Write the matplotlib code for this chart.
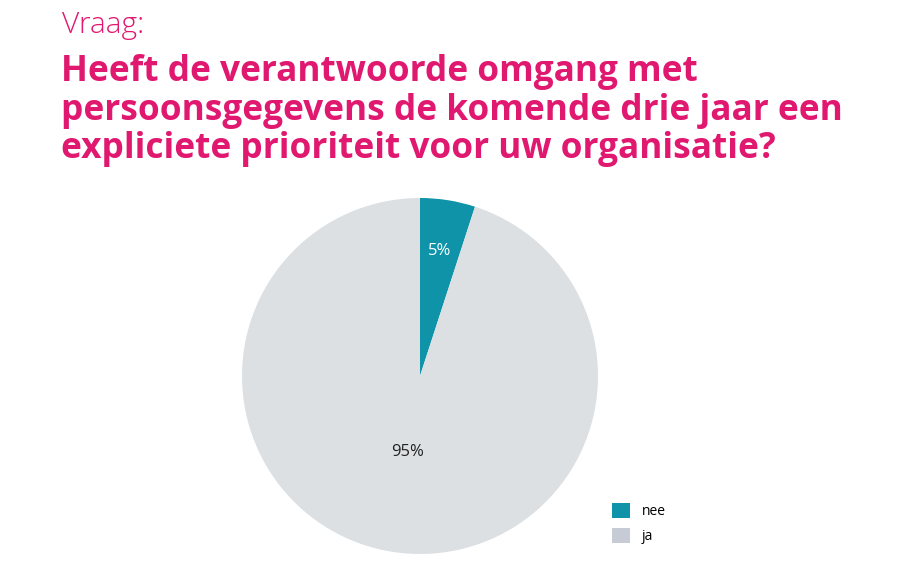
import numpy as np
import matplotlib.pyplot as plt
from matplotlib.patches import Patch

# data
labels = ["nee", "ja"]
values = [5, 95]
pct_labels = ["5%", "95%"]
colors = ["#0f93a8", "#dce0e3"]
legend_colors = ["#0f93a8", "#c7cbd6"]
pct_colors = ["white", "#222222"]
pct_dist = [0.71, 0.43]

question = "Vraag:"
title = ("Heeft de verantwoorde omgang met\n"
         "persoonsgegevens de komende drie jaar een\n"
         "expliciete prioriteit voor uw organisatie?")

W, H = 900, 574
fig = plt.figure(figsize=(W / 100, H / 100), dpi=100)
fig.patch.set_facecolor("white")

# pie centre (420, 376) px, radius 178 px
cx, cy, r = 420, 376, 178
ax = fig.add_axes([(cx - r) / W, (H - cy - r) / H, 2 * r / W, 2 * r / H])
wedges, _ = ax.pie(values, colors=colors, startangle=90, counterclock=False,
                   radius=1.0, wedgeprops=dict(linewidth=0))
for w, txt, d, c in zip(wedges, pct_labels, pct_dist, pct_colors):
    ang = np.deg2rad((w.theta1 + w.theta2) / 2)
    ax.text(d * np.cos(ang), d * np.sin(ang), txt, ha="center", va="center",
            fontsize=12, color=c, family="Open Sans")
ax.set_xlim(-1, 1)
ax.set_ylim(-1, 1)
ax.set_aspect("equal")
ax.axis("off")

magenta = "#e0186f"
fig.text(62 / W, 1 - 11 / H, question, ha="left", va="top", fontsize=21.5,
         color=magenta, family="Open Sans", fontweight="light")
fig.text(61 / W, 1 - 54 / H, title, ha="left", va="top", fontsize=25.4,
         color=magenta, family="Open Sans", fontweight="bold", linespacing=1.1)

handles = [Patch(facecolor=c, edgecolor="none") for c in legend_colors]
fig.legend(handles, labels, loc="upper left",
           bbox_to_anchor=(599 / W, 1 - 490 / H), frameon=False,
           handlelength=1.3, handleheight=1.3,
           labelspacing=0.65, handletextpad=0.9,
           prop={"family": "Open Sans", "size": 10})

fig.savefig("out.png", dpi=100)
